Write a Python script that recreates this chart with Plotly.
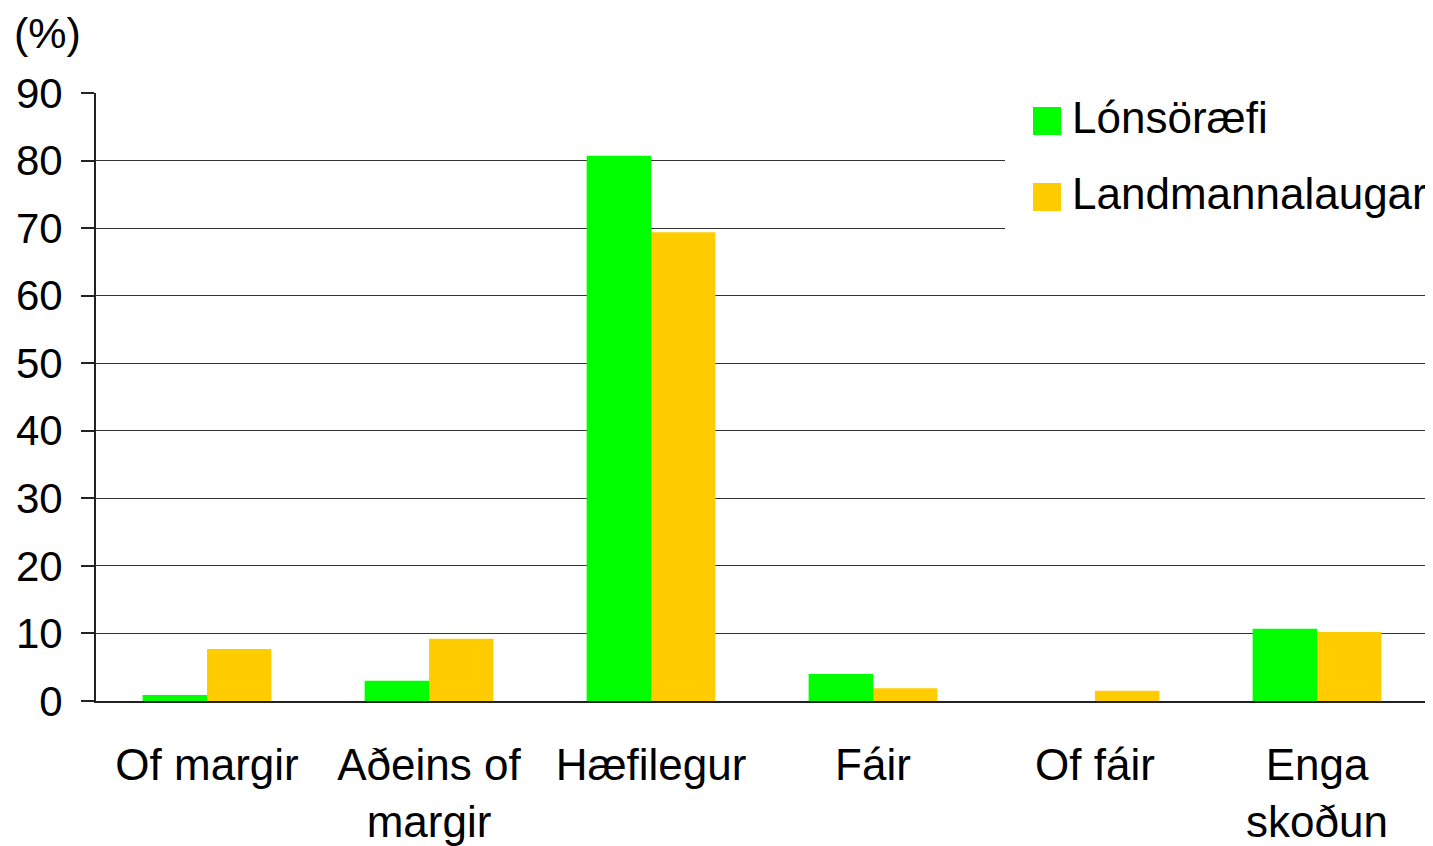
import plotly.graph_objects as go

categories = ["Of margir", "Aðeins of<br>margir", "Hæfilegur", "Fáir", "Of fáir", "Enga<br>skoðun"]
series_names = ["Lónsöræfi", "Landmannalaugar"]
lonsoraefi = [0.9, 3.0, 80.7, 4.0, 0.0, 10.7]
landmannalaugar = [7.7, 9.2, 69.4, 1.9, 1.5, 10.2]
colors = ["#00FF00", "#FFCC00"]
y_ticks = [0, 10, 20, 30, 40, 50, 60, 70, 80, 90]

FONT = "Liberation Sans, Arial, sans-serif"

fig = go.Figure()
for name, vals, col in zip(series_names, [lonsoraefi, landmannalaugar], colors):
    fig.add_trace(go.Bar(x=categories, y=vals, name=name, marker=dict(color=col, line=dict(width=0)),
                         showlegend=False))

# target plot-area in page pixels (page body adds an 8px offset)
OFF = 8
L, R, T, B = 96, 1428, 93, 701
W, H = 1433, 846
def px(x):
    return (x - L) / (R - L)
def py(y):
    return (B - y) / (B - T)

shapes = [dict(type="rect", xref="paper", yref="paper", x0=px(1005), x1=px(1440), y0=py(233), y1=py(96),
               fillcolor="white", line=dict(width=0), layer="above")]
annotations = []
sq_tops = [107, 183]
for i, (name, col) in enumerate(zip(series_names, colors)):
    t = sq_tops[i]
    shapes.append(dict(type="rect", xref="paper", yref="paper", x0=px(1033), x1=px(1061),
                       y0=py(t + 28), y1=py(t), fillcolor=col, line=dict(width=0), layer="above"))
    annotations.append(dict(xref="paper", yref="paper", x=px(1070), y=py(t + 10), text=name,
                            showarrow=False, xanchor="left", yanchor="middle",
                            font=dict(family=FONT, size=44, color="black")))

annotations.append(dict(xref="paper", yref="paper", x=px(13), y=py(33), text="(%)", showarrow=False,
                        xanchor="left", yanchor="middle", borderpad=0,
                        font=dict(family=FONT, size=43, color="black")))

fig.update_layout(
    template="none",
    width=W, height=H,
    margin=dict(l=L - OFF, r=W + OFF - R, t=T - OFF, b=H + OFF - B, pad=0),
    paper_bgcolor="white", plot_bgcolor="white",
    barmode="group", bargap=0.42, bargroupgap=0,
    font=dict(family=FONT, size=42, color="black"),
    shapes=shapes, annotations=annotations,
)
fig.update_xaxes(automargin=False, showline=True, linecolor="#222", linewidth=2, ticks="", showgrid=False,
                 tickfont=dict(size=44), ticklabelstandoff=24)
fig.update_yaxes(automargin=False, range=[0, 90], tickvals=y_ticks, showline=True, linecolor="#222", linewidth=2,
                 ticks="outside", ticklen=13, tickcolor="#222", tickwidth=1.5,
                 showgrid=True, gridcolor="#333", gridwidth=1.3, zeroline=False,
                 tickfont=dict(size=42), ticklabelstandoff=10)

fig.write_html("out.html")
